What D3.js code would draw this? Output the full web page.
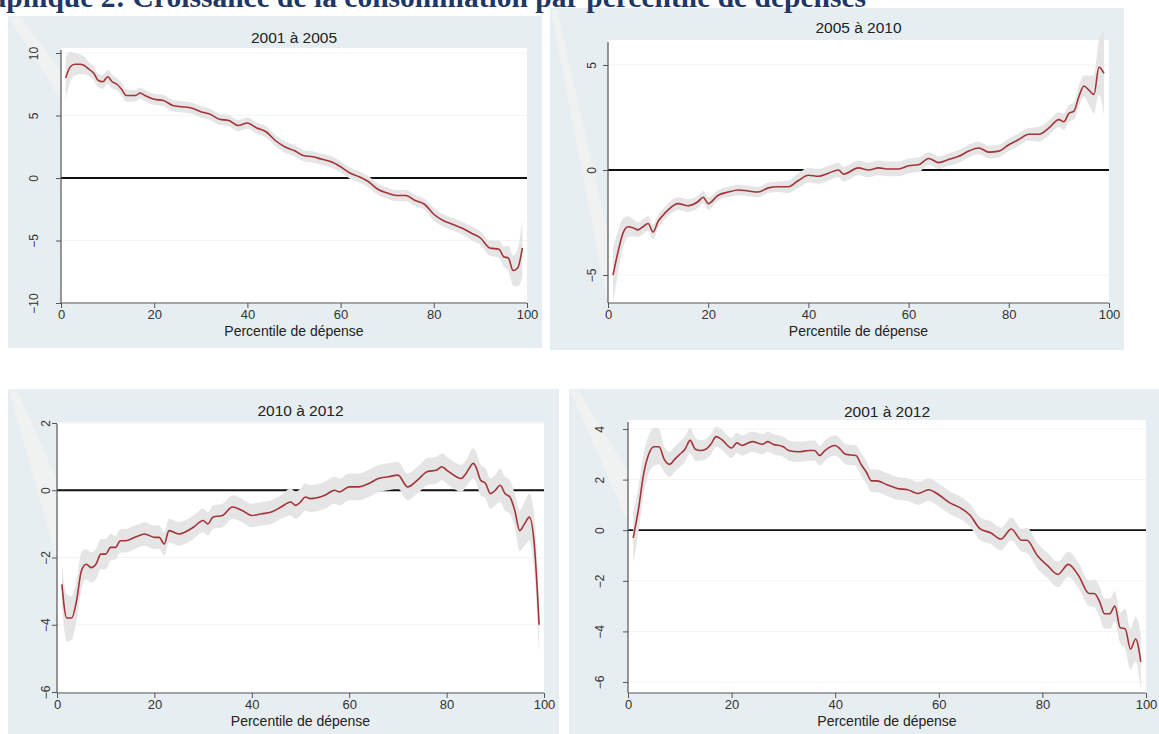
<!DOCTYPE html>
<html><head><meta charset="utf-8">
<script src="https://cdn.jsdelivr.net/npm/d3@7"></script>
<style>
body{margin:0;background:#fff;}
svg{display:block;}
text{font-family:Arial,"Liberation Sans",sans-serif;}
</style>
</head><body>
<svg id="chart" width="1159" height="734"></svg>
<script>
// ---------------- DATA ----------------
const mainTitle = "Graphique 2: Croissance de la consommation par percentile de dépenses";
const panelTitles = ["2001 à 2005", "2005 à 2010", "2010 à 2012", "2001 à 2012"];
const xAxisTitle = "Percentile de dépense";
const xTicks = [0, 20, 40, 60, 80, 100];

const p1Ticks = [-10, -5, 0, 5, 10];
const p1X = [1,2,3,4,5,6,7,8,9,10,11,12,13,14,16,17,18,20,22,24,26,28,30,32,34,36,38,40,42,44,46,48,50,52,54,56,58,60,62,64,66,68,70,72,74,76,78,80,82,84,86,88,90,92,94,95,96,97,98,99];
const p1Y = [8.0,8.9,9.1,9.1,9.0,8.7,8.4,7.8,7.7,8.1,7.7,7.5,7.1,6.6,6.6,6.8,6.6,6.3,6.2,5.8,5.7,5.6,5.3,5.1,4.7,4.6,4.2,4.4,4.0,3.7,3.0,2.5,2.2,1.8,1.7,1.5,1.3,0.9,0.4,0.1,-0.3,-0.9,-1.2,-1.4,-1.4,-1.8,-2.1,-2.9,-3.4,-3.7,-4.0,-4.4,-4.8,-5.6,-5.7,-6.3,-6.4,-7.4,-7.2,-5.6];
const p1CI = [1.7,1.2,0.9,0.8,0.7,0.55,0.55,0.55,0.55,0.55,0.55,0.5,0.5,0.5,0.45,0.45,0.45,0.45,0.45,0.45,0.45,0.45,0.45,0.45,0.45,0.45,0.45,0.45,0.45,0.45,0.45,0.45,0.45,0.45,0.45,0.45,0.45,0.45,0.45,0.45,0.45,0.45,0.45,0.45,0.45,0.45,0.45,0.5,0.5,0.5,0.5,0.55,0.55,0.6,0.7,0.8,1.0,1.2,1.5,2.3];

const p2Ticks = [-5, 0, 5];
const p2X = [1,2,3,4,5,6,7,8,9,10,11,12,14,16,18,19,20,22,24,26,28,30,32,34,36,38,40,42,44,46,47,50,52,54,56,58,60,62,64,66,68,70,72,74,76,78,80,82,84,86,88,90,91,92,93,94,95,96,97,98,99];
const p2Y = [-5.0,-3.9,-3.0,-2.7,-2.75,-2.85,-2.7,-2.55,-2.95,-2.45,-2.15,-1.9,-1.6,-1.7,-1.5,-1.3,-1.6,-1.2,-1.05,-0.95,-1.0,-1.05,-0.85,-0.8,-0.8,-0.5,-0.25,-0.3,-0.15,0.0,-0.2,0.1,0.0,0.1,0.05,0.05,0.2,0.25,0.55,0.35,0.5,0.65,0.9,1.05,0.85,0.9,1.2,1.45,1.7,1.7,2.0,2.4,2.3,2.7,2.8,3.5,4.0,3.8,3.6,4.9,4.6];
const p2CI = [1.3,1.0,0.7,0.5,0.4,0.35,0.35,0.35,0.35,0.3,0.3,0.3,0.3,0.3,0.3,0.3,0.3,0.25,0.25,0.25,0.25,0.25,0.25,0.25,0.3,0.35,0.35,0.35,0.35,0.35,0.35,0.35,0.35,0.35,0.35,0.35,0.35,0.35,0.3,0.3,0.3,0.3,0.3,0.3,0.3,0.3,0.3,0.3,0.3,0.35,0.35,0.35,0.4,0.4,0.4,0.5,0.5,0.7,0.9,1.3,2.0];

const p3Ticks = [-6, -4, -2, 0, 2];
const p3X = [1,2,3,4,5,6,7,8,9,10,11,12,13,14,16,18,20,21,22,23,25,28,30,31,32,34,36,38,40,42,44,46,48,49,50,51,52,55,57,58,60,62,64,66,68,70,72,74,76,78,79,80,82,83,84,85.5,86,87,88,89,90,91,92,93,94,95,96,97,98,99];
const p3Y = [-2.8,-3.8,-3.8,-3.3,-2.4,-2.2,-2.3,-2.2,-1.9,-1.9,-1.7,-1.7,-1.5,-1.5,-1.4,-1.3,-1.4,-1.4,-1.6,-1.2,-1.3,-1.1,-0.9,-1.0,-0.8,-0.75,-0.5,-0.6,-0.75,-0.7,-0.65,-0.5,-0.35,-0.45,-0.35,-0.2,-0.25,-0.15,0.0,-0.05,0.1,0.1,0.2,0.35,0.4,0.45,0.1,0.3,0.55,0.6,0.7,0.6,0.4,0.35,0.5,0.8,0.7,0.3,0.2,-0.1,0.0,0.15,-0.1,-0.2,-0.6,-1.2,-1.0,-0.8,-1.6,-4.0];
const p3CI = [0.6,0.7,0.65,0.6,0.55,0.45,0.45,0.45,0.45,0.45,0.4,0.35,0.35,0.35,0.35,0.35,0.35,0.35,0.35,0.35,0.35,0.35,0.35,0.35,0.35,0.35,0.35,0.35,0.35,0.35,0.35,0.35,0.4,0.4,0.4,0.4,0.4,0.4,0.4,0.4,0.4,0.4,0.4,0.4,0.4,0.4,0.4,0.4,0.4,0.4,0.4,0.4,0.4,0.4,0.4,0.45,0.45,0.45,0.45,0.45,0.45,0.5,0.5,0.5,0.5,0.6,0.65,0.7,0.8,0.85];

const p4Ticks = [-6, -4, -2, 0, 2, 4];
const p4X = [1,2,3,4,5,6,7,8,9,10,11,12,13,14,15,16,17,18,20,21,22,24,26,27,28,30,31,33,35,36,37,38,40,41,42,44,45,46,47,48,50,52,54,56,58,60,62,64,66,68,70,72,74,76,77,79,81,83,85,87,89,90,91,92,93,94,95,96,97,98,99];
const p4Y = [-0.3,0.8,2.2,3.0,3.3,3.3,2.8,2.6,2.8,3.0,3.2,3.55,3.2,3.15,3.2,3.4,3.7,3.6,3.25,3.45,3.35,3.5,3.4,3.5,3.4,3.3,3.15,3.1,3.15,3.15,2.95,3.15,3.35,3.2,3.0,2.95,2.6,2.3,1.95,1.95,1.8,1.65,1.6,1.45,1.6,1.4,1.1,0.9,0.6,0.05,-0.1,-0.35,0.05,-0.4,-0.4,-1.0,-1.4,-1.75,-1.35,-1.8,-2.5,-2.5,-2.8,-3.3,-3.3,-3.0,-3.85,-3.9,-4.7,-4.3,-5.2];
const p4CI = [1.0,0.9,0.8,0.75,0.75,0.7,0.5,0.5,0.5,0.5,0.5,0.5,0.45,0.4,0.4,0.4,0.4,0.4,0.4,0.4,0.4,0.4,0.4,0.4,0.4,0.4,0.4,0.4,0.4,0.4,0.4,0.4,0.4,0.4,0.4,0.4,0.45,0.45,0.45,0.45,0.45,0.45,0.45,0.45,0.45,0.45,0.45,0.45,0.45,0.45,0.45,0.45,0.45,0.45,0.5,0.5,0.5,0.5,0.5,0.5,0.5,0.55,0.6,0.6,0.6,0.6,0.6,0.8,0.8,0.9,1.1];

// ---------------- LAYOUT ----------------
const layout = [
  {box:[8,16,542,348], plot:[61,48,527,303], yMap:[[-10,303],[10,53]], titleY:43, yLabOff:23, xTitleY:336},
  {box:[550,8,1124,350], plot:[608,40,1109,303], yMap:[[-5,275],[5,65]], titleY:33, yLabOff:12, xTitleY:336},
  {box:[8,389,559,734], plot:[57,422,544,693], yMap:[[-6,692],[2,423]], titleY:416, yLabOff:7, xTitleY:726},
  {box:[569,389,1159,734], plot:[628,420,1146,693], yMap:[[-6,682],[4,429]], titleY:417, yLabOff:24, xTitleY:726}
];
const wedges = [
  [[9,17],[21,17],[61,72],[61,100]],
  [[551,10],[557,10],[607,230],[607,300]],
  [[9,390],[17,390],[57,480],[57,560]],
  [[570,390],[578,390],[627,470],[627,520]]
];
const series = [
  {x:p1X, y:p1Y, ci:p1CI, ticks:p1Ticks},
  {x:p2X, y:p2Y, ci:p2CI, ticks:p2Ticks},
  {x:p3X, y:p3Y, ci:p3CI, ticks:p3Ticks},
  {x:p4X, y:p4Y, ci:p4CI, ticks:p4Ticks}
];

const svg = d3.select("#chart");
svg.append("rect").attr("width",1159).attr("height",734).attr("fill","#ffffff");

series.forEach((s, i) => {
  const L = layout[i];
  const g = svg.append("g");
  g.append("rect").attr("x",L.box[0]).attr("y",L.box[1])
    .attr("width",L.box[2]-L.box[0]).attr("height",L.box[3]-L.box[1])
    .attr("fill","#e7eef1");
  g.append("polygon").attr("points", wedges[i].map(p=>p.join(",")).join(" "))
    .attr("fill","#f3f3f3").attr("opacity",0.8);
  const [px0,py0,px1,py1] = L.plot;
  g.append("rect").attr("x",px0).attr("y",py0).attr("width",px1-px0).attr("height",py1-py0).attr("fill","#ffffff");

  const x = d3.scaleLinear().domain([0,100]).range([px0,px1]);
  const y = d3.scaleLinear().domain([L.yMap[0][0],L.yMap[1][0]]).range([L.yMap[0][1],L.yMap[1][1]]);

  g.selectAll(".grid").data(s.ticks).join("line")
    .attr("x1",px0).attr("x2",px1).attr("y1",d=>y(d)).attr("y2",d=>y(d))
    .attr("stroke","#f1f3f4").attr("stroke-width",1);

  g.append("line").attr("x1",px0).attr("x2",px1).attr("y1",y(0)).attr("y2",y(0))
    .attr("stroke","#111").attr("stroke-width",1.8);

  const pts = s.x.map((v,k)=>({x:v, y:s.y[k], lo:s.y[k]-s.ci[k], hi:s.y[k]+s.ci[k]}));
  const area = d3.area().x(d=>x(d.x)).y0(d=>y(d.lo)).y1(d=>y(d.hi)).curve(d3.curveMonotoneX);
  g.append("path").datum(pts).attr("d",area).attr("fill","#e5e5e5");
  const line = d3.line().x(d=>x(d.x)).y(d=>y(d.y)).curve(d3.curveMonotoneX);
  g.append("path").datum(pts).attr("d",line).attr("fill","none")
    .attr("stroke","#a3343a").attr("stroke-width",1.6);

  g.append("line").attr("x1",px0).attr("x2",px0).attr("y1",py0+2).attr("y2",py1)
    .attr("stroke","#555").attr("stroke-width",1.2);
  g.append("line").attr("x1",px0).attr("x2",px1).attr("y1",py1).attr("y2",py1)
    .attr("stroke","#555").attr("stroke-width",1.2);

  const ya = g.append("g").attr("transform",`translate(${px0},0)`)
    .call(d3.axisLeft(y).tickValues(s.ticks).tickSize(5).tickSizeOuter(0).tickFormat(d3.format("d")));
  ya.select(".domain").remove();
  ya.selectAll(".tick line").attr("stroke","#555");
  ya.selectAll(".tick text").attr("x",null).attr("dy",null)
    .attr("transform",`translate(${-L.yLabOff},0) rotate(-90)`)
    .attr("text-anchor","middle").attr("fill","#333")
    .style("font-size","12px").style("font-family","Arial, 'Liberation Sans', sans-serif");

  const xa = g.append("g").attr("transform",`translate(0,${py1})`)
    .call(d3.axisBottom(x).tickValues(xTicks).tickSize(5).tickSizeOuter(0));
  xa.select(".domain").remove();
  xa.selectAll(".tick line").attr("stroke","#555");
  xa.selectAll(".tick text").attr("y",7).attr("fill","#333")
    .style("font-size","13px").style("font-family","Arial, 'Liberation Sans', sans-serif");

  g.append("text").attr("x",(px0+px1)/2).attr("y",L.titleY).attr("text-anchor","middle")
    .attr("fill","#222").style("font-size","15.5px").text(panelTitles[i]);
  g.append("text").attr("x",(px0+px1)/2).attr("y",L.xTitleY).attr("text-anchor","middle")
    .attr("fill","#222").style("font-size","14px").text(xAxisTitle);
});

// main title (partly cut off at the top of the picture, as in the source)
svg.append("text").attr("x",866).attr("y",7).attr("text-anchor","end")
  .attr("fill","#1f3766").style("font-family","'Liberation Serif','DejaVu Serif',serif")
  .style("font-weight","bold").style("font-size","29.5px").text(mainTitle);
</script>
</body></html>
